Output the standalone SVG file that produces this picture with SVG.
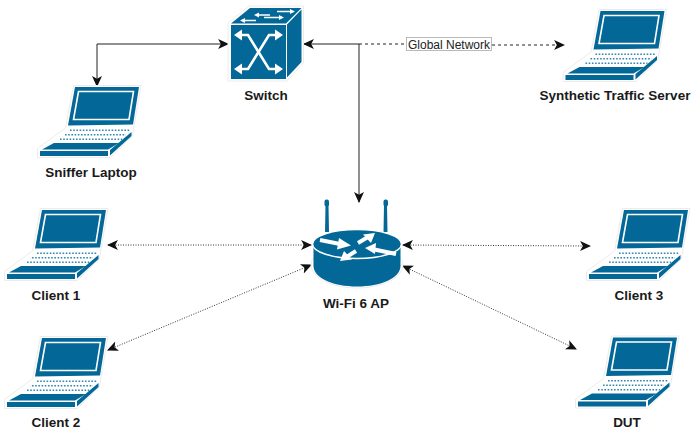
<svg xmlns="http://www.w3.org/2000/svg" width="691" height="432" viewBox="0 0 691 432" font-family="'Liberation Sans', Arial, sans-serif">
<style>
.b{fill:#036897}
.label{font-size:13.5px;font-weight:bold;fill:#1a1a1a;text-anchor:middle;font-family:'Liberation Sans',Arial,sans-serif}
.halo{fill:#fff;stroke:#ececec;stroke-width:1}
.w{fill:#fff}
.ws{fill:none;stroke:#fff;stroke-width:1.6;stroke-linejoin:miter}
.solid{fill:none;stroke:#222;stroke-width:1}
.dash{fill:none;stroke:#222;stroke-width:1;stroke-dasharray:3 3}
.dot{fill:none;stroke:#333;stroke-width:1;stroke-dasharray:1 1.5}
.keys{fill:none;stroke:#036897;stroke-width:1.6;stroke-dasharray:1.6 1.6;opacity:.8}
</style>
<defs>
<marker id="ah" viewBox="0 0 10 10" refX="9" refY="5" markerWidth="11" markerHeight="11" markerUnits="userSpaceOnUse" orient="auto-start-reverse"><path d="M0,0.5 L10,5 L0,9.5 L2.5,5 Z" fill="#111"/></marker>
<g id="laptop">
<path class="halo" d="M40.5,3.5 L108,3.5 L101,44 L99.5,53.5 L77.5,75.5 L4.5,75.5 L4.5,66.5 L32.5,46 Z"/>
<path class="b" d="M42,5 L106,5 L100,42.5 L35,43.5 Z"/>
<path class="ws" d="M45.500,9.500 L100.500,9.500 L96,37.500 L40.500,37.500 Z"/>
<path class="keys" d="M37,48.300 H97 M32,52.700 H93 M27,57.300 H89"/>
<path class="b" d="M21,61 H86 L75,67.500 H9 Z"/>
<rect class="b" x="7" y="69" width="68" height="5"/>
<path class="b" d="M77,68 L98.500,50 V54 L77,73.500 Z"/>
</g>
</defs>

<g id="connectors">
<path class="solid" d="M228,44 H97 V86" marker-start="url(#ah)" marker-end="url(#ah)"/>
<path class="solid" d="M304,44 H359 V202" marker-start="url(#ah)" marker-end="url(#ah)"/>
<path class="dash" d="M359,44 H406"/>
<path class="dash" d="M492,45 H564" marker-end="url(#ah)"/>
<path class="dot" d="M108,245 H311" marker-start="url(#ah)" marker-end="url(#ah)"/>
<path class="dot" d="M403,245 L590,246" marker-start="url(#ah)" marker-end="url(#ah)"/>
<path class="dot" d="M108,350 L311,265" marker-start="url(#ah)" marker-end="url(#ah)"/>
<path class="dot" d="M403,266 L576,349" marker-start="url(#ah)" marker-end="url(#ah)"/>
<g id="edge-label">
<rect x="406.500" y="37.500" width="85" height="13" fill="#fff" stroke="#aaa" stroke-width="0.8"/>
<text x="449" y="48.500" font-size="12" fill="#222" text-anchor="middle" font-family="'Liberation Sans',Arial,sans-serif">Global Network</text>
</g>
</g>

<g id="switch">
<path class="halo" d="M249,6 H303.500 V63 L287,81 H228 V23 Z"/>
<path class="b" d="M231,23.500 L250,8 H301.500 L286,23.500 Z"/>
<path class="b" d="M287,24.500 L301.500,9.500 V62 L287,77.500 Z"/>
<rect class="b" x="231" y="25" width="55" height="54"/>
<g fill="none" stroke="#fff" stroke-width="2.6">
<path d="M238,35 H248 L269,69 H279"/>
<path d="M238,69 H248 L269,35 H279"/>
</g>
<path class="w" d="M234,35 L242,29.500 V40.500 Z M283,35 L275,29.500 V40.500 Z M234,69 L242,63.500 V74.500 Z M283,69 L275,63.500 V74.500 Z"/>
<g fill="none" stroke="#fff" stroke-width="1.500">
<path d="M258,15 H270 M277,11.500 H291 M244,20.500 H256 M264,17.500 H280"/>
</g>
<path class="w" d="M254,15 L259,12.500 V17.500 Z M295,11.500 L290,9 V14 Z M240,20.500 L245,18 V23 Z M284,17.500 L279,15 V20 Z"/>
<text class="label" x="266" y="100">Switch</text>
</g>

<g id="sniffer-laptop">
<use href="#laptop" x="33" y="82"/>
<text class="label" x="91" y="177">Sniffer Laptop</text>
</g>
<g id="synthetic-traffic-server">
<use href="#laptop" x="558.500" y="6"/>
<text class="label" x="615" y="100">Synthetic Traffic Server</text>
</g>
<g id="client-1">
<use href="#laptop" x="0" y="205"/>
<text class="label" x="56" y="300">Client 1</text>
</g>
<g id="client-2">
<use href="#laptop" x="0" y="333"/>
<text class="label" x="56" y="427">Client 2</text>
</g>
<g id="client-3">
<use href="#laptop" x="582" y="205"/>
<text class="label" x="639" y="300">Client 3</text>
</g>
<g id="dut">
<use href="#laptop" x="571" y="332.500"/>
<text class="label" x="627" y="427">DUT</text>
</g>

<g id="wifi-6-ap">
<path class="b" d="M325,232 L325.500,205 H328.500 L329,232 Z M383.500,232 L384,205 H387 L387.500,232 Z"/>
<rect class="b" x="324.500" y="199.500" width="4.500" height="7" rx="2"/>
<rect class="b" x="383.500" y="199.500" width="4.500" height="7" rx="2"/>
<ellipse cx="357" cy="265" rx="46" ry="23" fill="#fff" stroke="#ececec"/>
<path class="b" d="M313.500,245 V266 C313.500,278 333,286.500 357,286.500 C381,286.500 400.500,278 400.500,266 V245 Z"/>
<ellipse cx="357" cy="244" rx="44.500" ry="14.500" class="b" stroke="#fff" stroke-width="1.500"/>
<g fill="none" stroke="#fff" stroke-width="4">
<path d="M320,240 L340,244"/>
<path d="M358,243 L368,237"/>
<path d="M372,249 L396,254"/>
<path d="M345,258 L356,251"/>
</g>
<g class="w">
<path d="M351,245.500 L337,249.500 L339,238 Z"/>
<path d="M375,233 L371,243 L363,234.500 Z"/>
<path d="M365,248 L376,243 L375,254 Z"/>
<path d="M340,261 L344,251 L352,259.500 Z"/>
</g>
<text class="label" x="356" y="308">Wi-Fi 6 AP</text>
</g>
</svg>
